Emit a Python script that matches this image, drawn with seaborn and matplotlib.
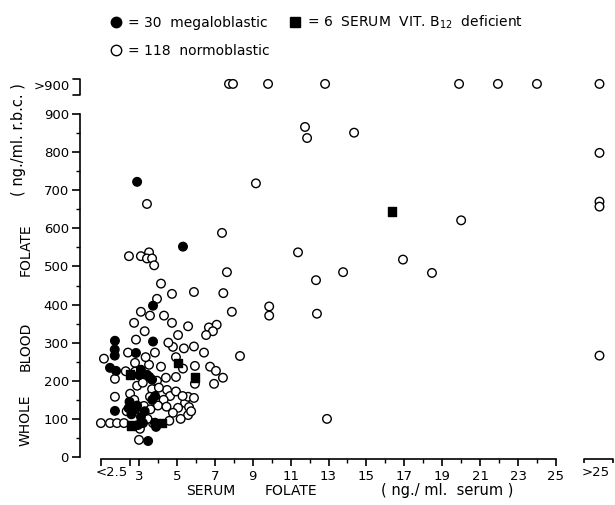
import matplotlib
matplotlib.use("Agg")
import matplotlib.pyplot as plt
import seaborn as sns
import pandas as pd
from matplotlib.lines import Line2D

# ---------------- data (serum folate ng/ml, whole blood folate ng/ml r.b.c.) ----------------
# values "<2.5" are plotted left of 2.5, ">25" plotted at GT25, ">900" plotted at GT900
GT25 = 27.3
GT900 = 979

mega_x = [2.9, 5.32, 3.74, 1.73, 3.74, 1.72, 1.72, 2.84, 1.47, 1.79,
          3.1, 3.42, 3.69, 1.73, 3.48, 3.21, 3.9, 2.5, 2.9, 2.6,
          3.1, 2.8, 3.7, 2.95, 3.84, 3.0, 3.55, 2.45, 3.85, 3.3]
mega_y = [722, 552, 397, 305, 303, 282, 266, 273, 234, 226,
          229, 216, 203, 121, 42, 89, 79, 145, 135, 112,
          105, 125, 150, 84, 90, 215, 210, 128, 160, 120]

b12_x = [2.53, 5.06, 5.95, 16.35, 2.6, 4.2]
b12_y = [216, 247, 208, 644, 82, 89]

normo_x = [7.75, 7.96, 9.81, 12.82, 19.89, 21.94, 24.0, GT25,
           11.76, 11.87, 14.35, GT25, 9.17, GT25, GT25, 20.0, 7.38, 11.39,
           16.93, 7.64, 12.34, 13.77, 18.46, 7.45, 7.9, 9.87, 9.87, 12.39,
           6.69, 7.1, 6.9, 6.54, 6.43, 8.33, 6.75, 7.06, 7.43, 6.96,
           12.92, GT25,
           3.42, 2.47, 3.1, 3.53, 3.42, 3.69, 3.8,
           4.16, 4.74, 5.9, 3.95,
           3.1, 3.58, 4.32, 2.74, 4.74, 5.59, 5.06, 2.84, 1.15, 2.42,
           3.84, 4.79, 5.37, 5.9, 1.73, 2.79, 3.53, 4.16, 5.32, 5.95,
           4.42, 4.95, 3.95, 2.9, 3.69, 4.48, 2.53, 1.73, 3.58, 4.64,
           5.43, 5.59, 5.9, 5.64, 5.06, 4.79, 5.59, 3.26, 5.95,
           0.99, 1.47, 1.84, 2.21,
           3.0, 3.74, 3.05, 3.1, 2.79,
           3.2, 4.05, 4.95, 2.75, 4.3, 4.0, 3.6, 4.45, 5.3, 5.75,
           5.2, 4.6, 2.35, 3.45, 4.95, 3.35, 2.3, 4.55, 3.3]
normo_y = [GT900, GT900, GT900, GT900, GT900, GT900, GT900, GT900,
           866, 837, 851, 798, 718, 670, 657, 621, 588, 537,
           518, 485, 464, 485, 483, 430, 381, 395, 371, 376,
           340, 347, 330, 320, 274, 265, 237, 226, 208, 192,
           100, 266,
           664, 527, 527, 537, 521, 521, 503,
           455, 428, 433, 415,
           381, 371, 371, 352, 352, 343, 320, 308, 258, 274,
           274, 289, 285, 290, 205, 247, 242, 237, 232, 239,
           208, 210, 200, 187, 178, 176, 166, 158, 158, 160,
           142, 158, 155, 131, 129, 116, 110, 134, 192,
           89, 89, 89, 89,
           45, 89, 74, 213, 224,
           195, 182, 172, 150, 150, 135, 125, 132, 160, 120,
           100, 95, 120, 100, 262, 262, 225, 300, 330]

x_ticks = [3, 5, 7, 9, 11, 13, 15, 17, 19, 21, 23, 25]
x_tick_labels = ["3", "5", "7", "9", "11", "13", "15", "17", "19", "21", "23", "25"]
y_ticks = [0, 100, 200, 300, 400, 500, 600, 700, 800, 900]

legend_labels = ["= 30  megaloblastic", "= 118  normoblastic",
                 "= 6  SERUM  VIT. B$_{12}$  deficient"]

df = pd.concat([
    pd.DataFrame({"serum": normo_x, "whole": normo_y, "group": "normoblastic"}),
    pd.DataFrame({"serum": mega_x, "whole": mega_y, "group": "megaloblastic"}),
    pd.DataFrame({"serum": b12_x, "whole": b12_y, "group": "B12"}),
], ignore_index=True)

# ---------------- style ----------------
sns.set_theme(style="ticks", rc={"axes.edgecolor": "black", "text.color": "black",
                                 "xtick.color": "black", "ytick.color": "black"})
plt.rcParams["font.family"] = ["DejaVu Sans"]

W, H = 615, 505
fig = plt.figure(figsize=(W / 100, H / 100), dpi=100)
ax = fig.add_axes([0, 0, 1, 1])
ax.set_facecolor("white")

# pixel <-> data layout
PX3, XS = 139.0, 18.95     # pixel of x=3, pixels per unit
PY0, YS = 457.0, 0.3811    # pixel of y=0, pixels per unit
ax.set_xlim(3 - PX3 / XS, 3 + (W - PX3) / XS)
ax.set_ylim((PY0 - H) / YS, PY0 / YS)

def dx(px):
    return 3 + (px - PX3) / XS

def dy(py):
    return (PY0 - py) / YS

sns.scatterplot(data=df, x="serum", y="whole", hue="group", style="group",
                palette={"normoblastic": "white", "megaloblastic": "black", "B12": "black"},
                markers={"normoblastic": "o", "megaloblastic": "o", "B12": "s"},
                hue_order=["normoblastic", "megaloblastic", "B12"],
                edgecolor="black", linewidth=1.0, s=38, legend=False, ax=ax,
                zorder=3, clip_on=False)

# ---------------- axes ----------------
for sp in ["top", "right"]:
    ax.spines[sp].set_visible(False)
yaxis_x = dx(80)
xaxis_y = -4
ax.spines["left"].set_position(("data", yaxis_x))
ax.spines["left"].set_bounds(0, 900)
ax.spines["bottom"].set_position(("data", xaxis_y))
ax.spines["bottom"].set_bounds(1.0, 25)
for sp in ["left", "bottom"]:
    ax.spines[sp].set_linewidth(1.2)
    ax.spines[sp].set_color("black")

ax.set_yticks(y_ticks)
ax.set_yticklabels([str(v) for v in y_ticks])
ax.set_yticks(list(range(50, 900, 100)), minor=True)
ax.set_xticks([1.0, 2.5] + x_ticks)
ax.set_xticklabels(["", ""] + x_tick_labels)
ax.set_xticks(list(range(4, 25, 2)), minor=True)
ax.tick_params(axis="y", which="major", direction="out", length=6, width=1.2,
               pad=2, labelsize=9.5, left=True)
ax.tick_params(axis="y", which="minor", direction="out", length=3, width=1, left=True)
ax.tick_params(axis="x", which="major", direction="out", length=5, width=1.2,
               pad=3, labelsize=9.5, bottom=True)
ax.tick_params(axis="x", which="minor", direction="out", length=3, width=1, bottom=True)
ax.set_xlabel("")
ax.set_ylabel("")

# "<2.5" and ">25" labels, ">25" bracket
fig.text(112 / W, 1 - 466.5 / H, "<2.5", ha="center", va="top", fontsize=9.5)
fig.text(596 / W, 1 - 466.5 / H, ">25", ha="center", va="top", fontsize=9.5)
bx0, bx1 = dx(584), dx(613)
ax.plot([bx0, bx0, bx1, bx1], [xaxis_y - 13, xaxis_y, xaxis_y, xaxis_y - 13],
        color="black", lw=1.2, clip_on=False, solid_capstyle="butt")

# ">900" label and bracket
fig.text(70 / W, 1 - 86 / H, ">900", ha="right", va="center", fontsize=9.5)
ax.plot([dx(73), yaxis_x, yaxis_x, dx(73)], [dy(79), dy(79), dy(95), dy(95)],
        color="black", lw=1.2, clip_on=False)

# axis titles
fig.text(211 / W, 1 - 491 / H, "SERUM", ha="center", va="center", fontsize=10)
fig.text(291 / W, 1 - 491 / H, "FOLATE", ha="center", va="center", fontsize=10)
fig.text(447 / W, 1 - 491 / H, "( ng./ ml.  serum )", ha="center", va="center", fontsize=10.5)
fig.text(26 / W, 1 - 420 / H, "WHOLE", rotation=90, ha="center", va="center", fontsize=10)
fig.text(26 / W, 1 - 346 / H, "BLOOD", rotation=90, ha="center", va="center", fontsize=10)
fig.text(26 / W, 1 - 250 / H, "FOLATE", rotation=90, ha="center", va="center", fontsize=10)
fig.text(19 / W, 1 - 140 / H, "( ng./ml. r.b.c. )", rotation=90, ha="center", va="center", fontsize=10.5)

# legend
handles = [
    Line2D([], [], marker="o", ls="none", mfc="black", mec="black", ms=7.5),
    Line2D([], [], marker="o", ls="none", mfc="white", mec="black", ms=7.5, mew=1),
    Line2D([], [], marker="s", ls="none", mfc="black", mec="black", ms=7.5),
    Line2D([], [], ls="none"),
]
fig.legend(handles, legend_labels + [""], ncol=2, loc="upper left",
           bbox_to_anchor=(110 / W, 1 - 14 / H), frameon=False, fontsize=10,
           handlelength=0.9, handletextpad=0.4, columnspacing=1.4,
           labelspacing=1.0, borderpad=0, borderaxespad=0)

fig.savefig("out.png", dpi=100, facecolor="white")
